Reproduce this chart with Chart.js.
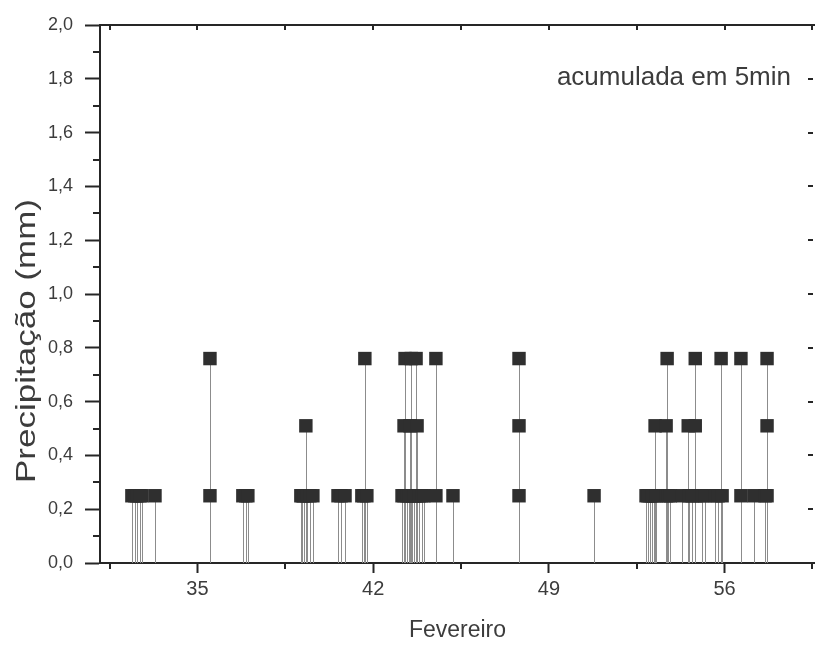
<!DOCTYPE html>
<html>
<head>
<meta charset="utf-8">
<title>Precipitação acumulada em 5 min - Fevereiro</title>
<script src="https://cdn.jsdelivr.net/npm/chart.js@4.4.0/dist/chart.umd.min.js"></script>
<style>
  html, body { margin: 0; padding: 0; background: #fff; }
</style>
</head>
<body>
<canvas id="precipChart" width="815" height="647"></canvas>
<script>
// registros de 5 min: dia (contagem contínua) e precipitação (mm)
const dias = [
  32.39, 32.51, 32.59, 32.71, 32.79, 33.31,
  35.50, 35.50,
  36.81, 36.93, 37.01,
  39.12, 39.18, 39.24, 39.32, 39.36, 39.48, 39.60,
  40.60, 40.72, 40.88,
  41.55, 41.63, 41.67, 41.75,
  43.15, 43.23, 43.35, 43.43, 43.56, 43.63, 43.71, 43.83, 43.94, 44.02, 44.50,
  43.23, 43.47, 43.75,
  43.27, 43.52, 43.71, 44.50,
  45.18,
  47.81, 47.81, 47.81,
  50.80,
  52.87, 52.95, 53.03, 53.11, 53.19, 53.27, 53.67, 53.75, 53.84,
  53.23, 53.67, 53.71,
  54.31, 54.59, 54.71, 54.83, 55.10, 55.22, 55.62, 55.74, 55.90,
  54.55, 54.83, 54.83, 55.86,
  56.65, 56.65,
  57.17, 57.61, 57.69, 57.69, 57.69
];
const precip = [
  0.25, 0.25, 0.25, 0.25, 0.25, 0.25,
  0.25, 0.76,
  0.25, 0.25, 0.25,
  0.25, 0.25, 0.25, 0.51, 0.25, 0.25, 0.25,
  0.25, 0.25, 0.25,
  0.25, 0.25, 0.76, 0.25,
  0.25, 0.25, 0.25, 0.25, 0.25, 0.25, 0.25, 0.25, 0.25, 0.25, 0.25,
  0.51, 0.51, 0.51,
  0.76, 0.76, 0.76, 0.76,
  0.25,
  0.25, 0.51, 0.76,
  0.25,
  0.25, 0.25, 0.25, 0.25, 0.25, 0.25, 0.25, 0.25, 0.25,
  0.51, 0.51, 0.76,
  0.25, 0.25, 0.25, 0.25, 0.25, 0.25, 0.25, 0.25, 0.25,
  0.51, 0.51, 0.76, 0.76,
  0.25, 0.76,
  0.25, 0.25, 0.25, 0.51, 0.76
];

const xTicks = [35, 42, 49, 56];
const xMinor = [31.5, 38.5, 45.5, 52.5, 59.5];
const yTicks = [0, 0.2, 0.4, 0.6, 0.8, 1.0, 1.2, 1.4, 1.6, 1.8, 2.0];
const yMinor = [0.1, 0.3, 0.5, 0.7, 0.9, 1.1, 1.3, 1.5, 1.7, 1.9];

const axisColor = '#262626';
const textColor = '#3c3c3c';
const fontFamily = "'Liberation Sans', Arial, sans-serif";

// hastes verticais do zero até cada ponto, moldura, ticks menores e textos
const stemPlugin = {
  id: 'stems',
  beforeDatasetsDraw(chart) {
    const { ctx, scales: { x, y } } = chart;
    ctx.save();
    ctx.strokeStyle = '#8c8c8c';
    ctx.lineWidth = 1;
    const y0 = y.getPixelForValue(0);
    dias.forEach((d, i) => {
      const px = Math.round(x.getPixelForValue(d)) + 0.5;
      ctx.beginPath();
      ctx.moveTo(px, y0);
      ctx.lineTo(px, y.getPixelForValue(precip[i]));
      ctx.stroke();
    });
    ctx.restore();
  },
  afterDraw(chart) {
    const { ctx, chartArea: area, scales: { x, y } } = chart;
    ctx.save();
    ctx.strokeStyle = axisColor;
    ctx.lineWidth = 2;
    ctx.beginPath();
    ctx.moveTo(area.left, area.top);
    ctx.lineTo(area.right, area.top);
    ctx.stroke();
    yMinor.forEach(v => {
      const py = Math.round(y.getPixelForValue(v));
      ctx.beginPath();
      ctx.moveTo(area.left - 7, py);
      ctx.lineTo(area.left, py);
      ctx.stroke();
    });
    xMinor.forEach(v => {
      const px = Math.round(x.getPixelForValue(v));
      ctx.beginPath();
      ctx.moveTo(px, area.bottom);
      ctx.lineTo(px, area.bottom + 6);
      ctx.stroke();
    });
    // ticks do eixo superior e do direito, para dentro
    xTicks.concat(xMinor).forEach(v => {
      const px = Math.round(x.getPixelForValue(v));
      ctx.beginPath();
      ctx.moveTo(px, area.top);
      ctx.lineTo(px, area.top + 5);
      ctx.stroke();
    });
    yTicks.slice(1, -1).forEach(v => {
      const py = Math.round(y.getPixelForValue(v));
      ctx.beginPath();
      ctx.moveTo(area.right - 2, py);
      ctx.lineTo(area.right - 7, py);
      ctx.stroke();
    });
    ctx.fillStyle = textColor;
    ctx.font = "26px " + fontFamily;
    ctx.textAlign = 'right';
    ctx.textBaseline = 'alphabetic';
    ctx.fillText('acumulada em 5min', 791, 85);
    // título do eixo y
    ctx.translate(27, 341);
    ctx.rotate(-Math.PI / 2);
    ctx.scale(1.25, 1);
    ctx.font = "28px " + fontFamily;
    ctx.textAlign = 'center';
    ctx.textBaseline = 'middle';
    ctx.fillText('Precipitação (mm)', 0, 0);
    ctx.restore();
  }
};

new Chart(document.getElementById('precipChart'), {
  type: 'scatter',
  data: {
    datasets: [{
      label: 'Precipitação',
      data: dias.map((d, i) => ({ x: d, y: precip[i] })),
      pointStyle: 'rect',
      pointRadius: 9.5,
      pointHoverRadius: 9.5,
      backgroundColor: '#2f2f2f',
      borderColor: '#2f2f2f',
      borderWidth: 0
    }]
  },
  options: {
    responsive: false,
    devicePixelRatio: 1,
    animation: false,
    layout: { autoPadding: false, padding: { top: 25, right: 0, bottom: 0, left: 0 } },
    plugins: {
      legend: { display: false },
      tooltip: { enabled: false }
    },
    scales: {
      x: {
        type: 'linear',
        min: 31.12,
        max: 59.6,
        afterBuildTicks: s => { s.ticks = xTicks.map(v => ({ value: v })); },
        afterFit: s => { s.height = 84; s.paddingLeft = 0; s.paddingRight = 0; },
        ticks: {
          color: textColor,
          font: { family: fontFamily, size: 20 },
          padding: 4,
          maxRotation: 0,
          autoSkip: false
        },
        grid: {
          drawOnChartArea: false,
          drawTicks: true,
          tickLength: 10,
          tickWidth: 2,
          tickColor: axisColor
        },
        border: { display: true, color: axisColor, width: 2 },
        title: {
          display: true,
          text: 'Fevereiro',
          color: textColor,
          font: { family: fontFamily, size: 23 },
          padding: { top: 4, bottom: 3 }
        }
      },
      y: {
        min: 0,
        max: 2,
        afterBuildTicks: s => { s.ticks = yTicks.map(v => ({ value: v })); },
        afterFit: s => { s.width = 100; },
        ticks: {
          color: textColor,
          font: { family: fontFamily, size: 18 },
          padding: 12,
          callback: v => v.toFixed(1).replace('.', ',')
        },
        grid: {
          drawOnChartArea: false,
          drawTicks: true,
          tickLength: 15,
          tickWidth: 2,
          tickColor: axisColor
        },
        border: { display: true, color: axisColor, width: 2 },
        title: { display: false }
      }
    }
  },
  plugins: [stemPlugin]
});
</script>
</body>
</html>
